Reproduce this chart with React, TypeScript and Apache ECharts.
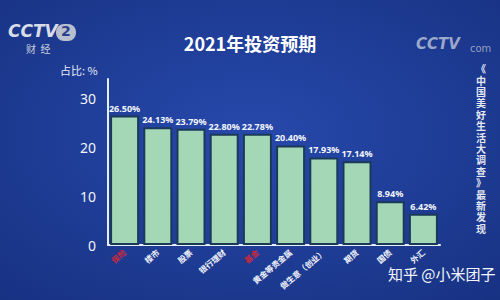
import React, { useEffect, useRef } from "react";
import * as echarts from "echarts";

const categories = ["保险", "楼市", "股票", "银行理财", "基金", "黄金等贵金属", "做生意（创业）", "期货", "国债", "外汇"];
const values = [26.5, 24.13, 23.79, 22.8, 22.78, 20.4, 17.93, 17.14, 8.94, 6.42];
const redCategories = ["保险", "基金"];
const yTicks = [0, 10, 20, 30];
const sideNote = "《中国美好生活大调查》最新发现";

export default function App() {
  const ref = useRef<HTMLDivElement>(null);
  useEffect(() => {
    if (!ref.current) return;
    const chart = echarts.init(ref.current, null, { renderer: "svg" });
    const vertical = sideNote.split("").join("\n");
    chart.setOption({
      animation: false,
      backgroundColor: {
        type: "radial",
        x: 0.5,
        y: 0.45,
        r: 0.8,
        colorStops: [
          { offset: 0, color: "#2749ac" },
          { offset: 1, color: "#16307f" },
        ],
      },
      grid: { left: 108, right: 60, top: 79, bottom: 55 },
      xAxis: {
        type: "category",
        data: categories,
        axisLine: { lineStyle: { color: "#e8eef8", width: 2 } },
        axisTick: { show: false },
        axisLabel: {
          rotate: 40,
          fontSize: 8,
          fontWeight: "bold",
          margin: 6,
          interval: 0,
          color: (v: string) => (redCategories.includes(v) ? "#d0283a" : "#f2f4fa"),
          fontFamily: "Noto Sans CJK SC",
        },
      },
      yAxis: {
        type: "value",
        min: 0,
        max: 34,
        interval: 10,
        splitLine: { show: false },
        axisLine: { show: true, lineStyle: { color: "#e8eef8", width: 2 } },
        axisTick: { show: false },
        axisLabel: {
          color: "#f2f4fa",
          fontSize: 14,
          margin: 12,
          fontFamily: "Noto Sans",
          formatter: (v: number) => (yTicks.includes(v) ? String(v) : ""),
        },
      },
      series: [
        {
          type: "bar",
          data: values,
          barWidth: 29,
          itemStyle: { color: "#a3d7b6", borderColor: "#1b3a58", borderWidth: 2 },
          label: {
            show: true,
            position: "top",
            distance: 3,
            color: "#f4f6fb",
            fontSize: 9,
            fontWeight: "bold",
            fontFamily: "Noto Sans",
            formatter: (p: any) => p.value.toFixed(2) + "%",
          },
        },
      ],
      graphic: [
        {
          type: "text",
          left: "center",
          top: 34,
          style: { text: "2021年投资预期", fill: "#ffffff", fontSize: 18, fontWeight: "bold", fontFamily: "Noto Sans CJK SC" },
        },
        {
          type: "text",
          left: 60,
          top: 64,
          style: { text: "占比: %", fill: "#e6ebf6", fontSize: 11, fontFamily: "Noto Sans CJK SC" },
        },
        {
          type: "text",
          left: 8,
          top: 22,
          style: { text: "CCTV", fill: "#d8dde8", fontSize: 17, fontWeight: "bold", fontStyle: "italic", fontFamily: "DejaVu Sans" },
        },
        {
          type: "rect",
          shape: { x: 56, y: 24, width: 20, height: 17, r: 8 },
          style: { fill: "#b8bfcf" },
        },
        {
          type: "text",
          left: 61,
          top: 24,
          style: { text: "2", fill: "#2a3f8c", fontSize: 14, fontWeight: "bold", fontFamily: "DejaVu Sans" },
        },
        {
          type: "text",
          left: 26,
          top: 43,
          style: { text: "财  经", fill: "#c8cede", fontSize: 10, fontFamily: "Noto Sans CJK SC" },
        },
        {
          type: "text",
          left: 416,
          top: 36,
          style: { text: "CCTV", fill: "rgba(200,206,222,0.75)", fontSize: 15, fontWeight: "bold", fontStyle: "italic", fontFamily: "DejaVu Sans" },
        },
        {
          type: "text",
          left: 470,
          top: 43,
          style: { text: "com", fill: "rgba(200,206,222,0.7)", fontSize: 10, fontFamily: "DejaVu Sans" },
        },
        {
          type: "text",
          left: 476,
          top: 63,
          style: { text: vertical, fill: "#e4e8f2", fontSize: 10, lineHeight: 11.4, fontWeight: "bold", fontFamily: "Noto Sans CJK SC" },
        },
        {
          type: "text",
          left: 388,
          top: 266,
          style: { text: "知乎 @小米团子", fill: "#f4f6fb", fontSize: 15, fontFamily: "Noto Sans CJK SC" },
        },
      ],
    });
    return () => chart.dispose();
  }, []);
  return <div ref={ref} style={{ width: 500, height: 300, position: "absolute", left: 0, top: 0 }} />;
}
